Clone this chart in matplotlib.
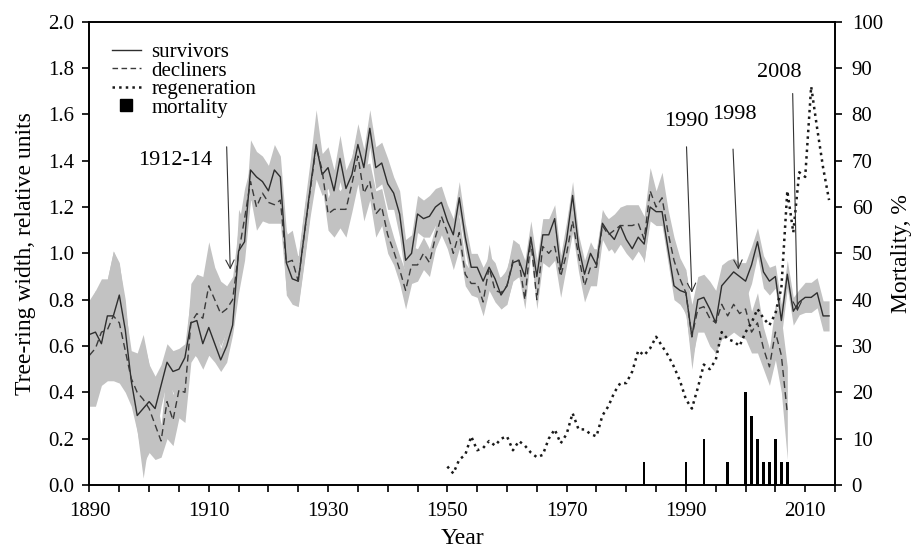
import numpy as np
import matplotlib
matplotlib.use('Agg')
import matplotlib.pyplot as plt
from matplotlib.lines import Line2D

plt.rcParams['font.family'] = ['Liberation Serif', 'DejaVu Serif']

# ---- data ----
years = np.arange(1890, 2015)

survivors = [
    0.65, 0.66, 0.61, 0.73, 0.73, 0.82, 0.67, 0.45, 0.30, 0.33,
    0.36, 0.33, 0.43, 0.53, 0.49, 0.50, 0.55, 0.70, 0.71, 0.61,
    0.68, 0.61, 0.54, 0.60, 0.69, 1.01, 1.05, 1.36, 1.33, 1.31,
    1.27, 1.36, 1.33, 0.96, 0.89, 0.88, 1.08, 1.28, 1.47, 1.34,
    1.37, 1.27, 1.41, 1.28, 1.34, 1.47, 1.37, 1.54, 1.37, 1.39,
    1.30, 1.26, 1.17, 0.97, 1.00, 1.17, 1.15, 1.16, 1.20, 1.22,
    1.14, 1.08, 1.24, 1.07, 0.94, 0.94, 0.88, 0.94, 0.89, 0.82,
    0.86, 0.96, 0.97, 0.90, 1.07, 0.90, 1.08, 1.08, 1.15, 0.93,
    1.06, 1.25, 1.03, 0.91, 1.00, 0.95, 1.13, 1.09, 1.06, 1.12,
    1.06, 1.02, 1.07, 1.04, 1.20, 1.18, 1.18, 1.02, 0.86, 0.84,
    0.83, 0.64, 0.80, 0.81, 0.76, 0.70, 0.86, 0.89, 0.92, 0.90,
    0.88, 0.95, 1.05, 0.92, 0.88, 0.90, 0.71, 0.91, 0.75, 0.79,
    0.81, 0.81, 0.83, 0.73, 0.73,
]
survivors_err = [
    0.15, 0.18, 0.17, 0.16, 0.28, 0.13, 0.13, 0.06, 0.07, 0.30,
    0.16, 0.14, 0.09, 0.08, 0.09, 0.09, 0.06, 0.12, 0.16, 0.11,
    0.12, 0.08, 0.05, 0.07, 0.04, 0.18, 0.08, 0.13, 0.11, 0.11,
    0.11, 0.11, 0.09, 0.14, 0.11, 0.11, 0.12, 0.12, 0.15, 0.09,
    0.09, 0.09, 0.10, 0.08, 0.08, 0.09, 0.08, 0.08, 0.09, 0.09,
    0.11, 0.07, 0.10, 0.09, 0.08, 0.08, 0.08, 0.09, 0.08, 0.07,
    0.07, 0.07, 0.07, 0.06, 0.06, 0.06, 0.06, 0.05, 0.07, 0.06,
    0.08, 0.07, 0.07, 0.07, 0.07, 0.07, 0.07, 0.07, 0.06, 0.06,
    0.08, 0.06, 0.05, 0.06, 0.05, 0.05, 0.06, 0.05, 0.06, 0.08,
    0.06, 0.05, 0.06, 0.07, 0.06, 0.06, 0.06, 0.06, 0.06, 0.06,
    0.09, 0.14, 0.10, 0.10, 0.12, 0.14, 0.09, 0.08, 0.06, 0.06,
    0.08, 0.08, 0.06, 0.07, 0.06, 0.05, 0.07, 0.06, 0.06, 0.055,
    0.065, 0.065, 0.065, 0.065, 0.065,
]

decliners = [
    0.56, 0.59, 0.66, 0.67, 0.73, 0.70, 0.58, 0.46, 0.40, 0.37,
    0.33, 0.26, 0.19, 0.36, 0.28, 0.41, 0.40, 0.70, 0.74, 0.72,
    0.86, 0.80, 0.74, 0.76, 0.80, 1.00, 1.15, 1.31, 1.20, 1.26,
    1.22, 1.21, 1.23, 0.96, 0.97, 0.88, 1.08, 1.27, 1.46, 1.36,
    1.17, 1.19, 1.19, 1.19, 1.30, 1.42, 1.26, 1.31, 1.17, 1.20,
    1.08, 1.01, 0.93, 0.84, 0.95, 0.95, 1.00, 0.96, 1.07, 1.16,
    1.09, 1.00, 1.09, 0.91, 0.87, 0.87, 0.79, 0.94, 0.84, 0.83,
    0.86, 0.97, 0.97, 0.80, 1.06, 0.80, 1.03, 1.00, 1.03, 0.90,
    1.00, 1.14, 0.99, 0.86, 0.94, 0.94, 1.12, 1.08, 1.10, 1.12,
    1.12, 1.12, 1.13, 1.06, 1.27, 1.20, 1.24, 1.09, 0.97, 0.89,
    0.83, 0.64, 0.76, 0.77, 0.72, 0.70, 0.78, 0.73, 0.78, 0.74,
    0.76, 0.66, 0.70, 0.59, 0.51, 0.66, 0.56, 0.31,
] + [np.nan] * 7
decliners_err = [
    0.22, 0.25, 0.23, 0.22, 0.28, 0.26, 0.18, 0.12, 0.17, 0.28,
    0.19, 0.15, 0.07, 0.16, 0.11, 0.12, 0.13, 0.17, 0.17, 0.18,
    0.19, 0.14, 0.14, 0.10, 0.10, 0.12, 0.13, 0.07, 0.10, 0.12,
    0.09, 0.08, 0.10, 0.12, 0.13, 0.10, 0.11, 0.09, 0.06, 0.07,
    0.07, 0.12, 0.08, 0.12, 0.12, 0.12, 0.12, 0.08, 0.10, 0.08,
    0.08, 0.06, 0.06, 0.08, 0.08, 0.07, 0.07, 0.06, 0.05, 0.08,
    0.07, 0.07, 0.07, 0.05, 0.05, 0.06, 0.06, 0.10, 0.05, 0.07,
    0.07, 0.09, 0.07, 0.04, 0.06, 0.04, 0.07, 0.06, 0.06, 0.09,
    0.05, 0.05, 0.07, 0.07, 0.08, 0.08, 0.06, 0.07, 0.07, 0.08,
    0.09, 0.09, 0.08, 0.10, 0.10, 0.07, 0.11, 0.10, 0.10, 0.09,
    0.10, 0.10, 0.10, 0.11, 0.12, 0.13, 0.15, 0.09, 0.12, 0.10,
    0.13, 0.09, 0.13, 0.09, 0.08, 0.12, 0.16, 0.20,
] + [np.nan] * 7

regen_years = np.arange(1950, 2015)
regeneration = [
    0.08, 0.05, 0.11, 0.13, 0.21, 0.15, 0.16, 0.19, 0.17, 0.20,
    0.21, 0.15, 0.19, 0.17, 0.14, 0.12, 0.13, 0.20, 0.24, 0.18,
    0.22, 0.31, 0.24, 0.24, 0.22, 0.21, 0.30, 0.34, 0.40, 0.44,
    0.44, 0.49, 0.58, 0.56, 0.59, 0.64, 0.60, 0.56, 0.51, 0.45,
    0.37, 0.33, 0.42, 0.52, 0.50, 0.54, 0.66, 0.63, 0.62, 0.60,
    0.66, 0.70, 0.76, 0.72, 0.69, 0.74, 0.85, 1.27, 1.09, 1.35,
    1.33, 1.72, 1.54, 1.37, 1.23,
]

mort_years = [1983, 1990, 1993, 1997, 2000, 2001, 2002, 2003, 2004, 2005, 2006, 2007]
mortality = [5, 5, 10, 5, 20, 15, 10, 5, 5, 10, 5, 5]

# label, text position, arrow start, arrow end
events = ['1912-14', '1990', '1998', '2008']
event_text_xy = [(1904.4, 1.40), (1990.1, 1.57), (1998.2, 1.60), (2005.7, 1.78)]
event_tail = [(1913.0, 1.46), (1990.1, 1.46), (1997.9, 1.45), (2007.9, 1.69)]
event_head = [(1913.6, 0.93), (1991.0, 0.83), (1998.8, 0.93), (2008.7, 0.75)]

surv = np.array(survivors)
decl = np.array(decliners)
s_err = np.array(survivors_err)
d_err = np.array(decliners_err)

fig = plt.figure(figsize=(9.15, 5.55), dpi=100)
ax = fig.add_axes([0.0978, 0.1261, 0.8148, 0.8348])
ax2 = ax.twinx()

band = '#c2c2c2'
ax.fill_between(years, surv - s_err, surv + s_err, color=band, lw=0, zorder=1)
ax.fill_between(years, decl - d_err, decl + d_err, color=band, lw=0, zorder=1)

ax.plot(years, surv, color='#2e2e2e', lw=1.0, zorder=3)
ax.plot(years, decl, color='#3a3a3a', lw=1.0, dashes=(5, 3), zorder=3)
ax.plot(regen_years, regeneration, color='#1a1a1a', lw=1.8, ls=':', zorder=3)

ax2.bar(mort_years, mortality, width=0.4, color='black', zorder=2)

ax.set_xlim(1890, 2015)
ax.set_ylim(0, 2.0)
ax2.set_ylim(0, 100)

ax.set_xticks(range(1890, 2011, 20))
ax.set_xticks(range(1890, 2016, 5), minor=True)
ax.set_yticks(np.arange(0, 2.01, 0.2))
ax.set_yticklabels(['%.1f' % v for v in np.arange(0, 2.01, 0.2)])
ax2.set_yticks(range(0, 101, 10))

for a in (ax, ax2):
    a.tick_params(which='both', direction='out', length=5, width=1.2,
                  labelsize=15, colors='black')
    for sp in a.spines.values():
        sp.set_linewidth(1.2)
ax.tick_params(axis='x', which='both', pad=7)
ax.tick_params(axis='y', pad=6)
ax2.tick_params(axis='y', pad=7)

ax.set_xlabel('Year', fontsize=17, labelpad=5)
ax.set_ylabel('Tree-ring width, relative units', fontsize=17, labelpad=9)
ax2.set_ylabel('Mortality, %', fontsize=17, labelpad=6)

for lab, txy, tail, head in zip(events, event_text_xy, event_tail, event_head):
    ax.text(txy[0], txy[1], lab, fontsize=16, ha='center', va='center')
    ax.annotate('', xy=head, xytext=tail,
                arrowprops=dict(arrowstyle='->', lw=0.8, color='#333333',
                                shrinkA=0, shrinkB=0, mutation_scale=15))

handles = [
    Line2D([], [], color='#2e2e2e', lw=1.0),
    Line2D([], [], color='#3a3a3a', lw=1.0, dashes=(4, 2.5)),
    Line2D([], [], color='#1a1a1a', lw=1.8, ls=':'),
    Line2D([], [], color='black', marker='s', ls='none', markersize=9),
]
ax.legend(handles, ['survivors', 'decliners', 'regeneration', 'mortality'],
          loc='upper left', bbox_to_anchor=(0.03, 0.955), frameon=False,
          fontsize=15, handlelength=1.4, handletextpad=0.5,
          labelspacing=-0.05, borderpad=0, borderaxespad=0)

fig.savefig('out.png', dpi=100)
